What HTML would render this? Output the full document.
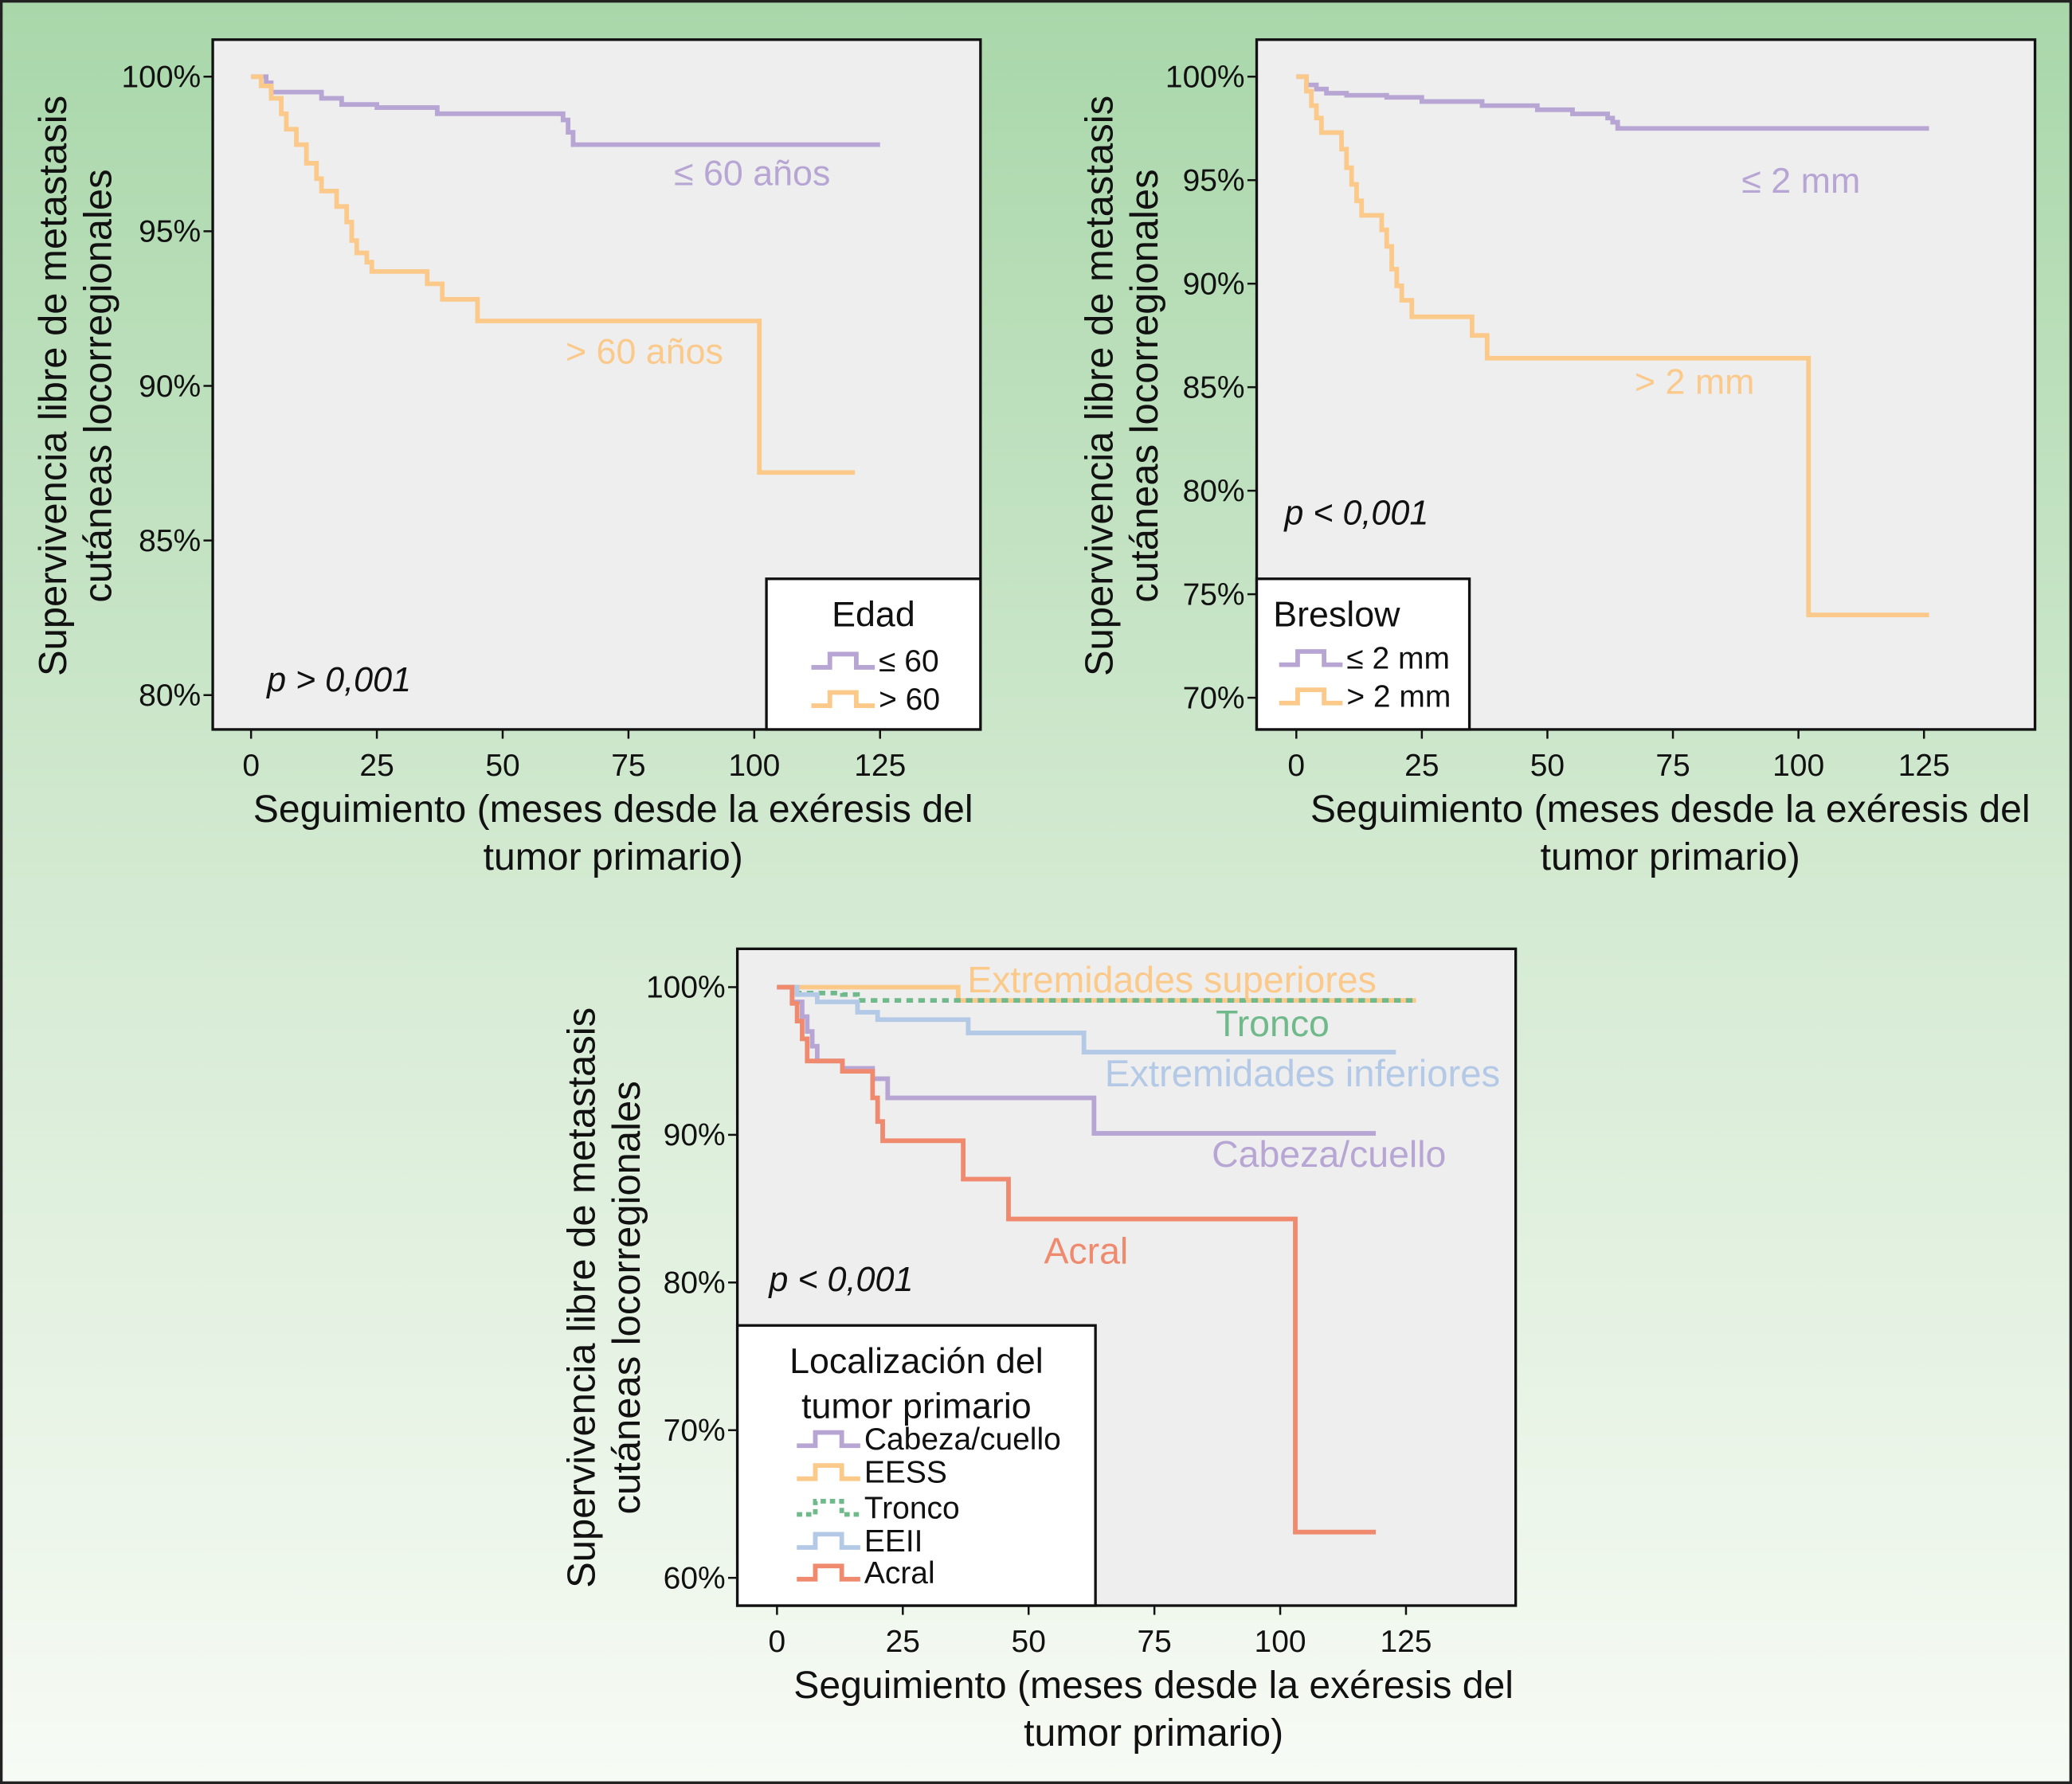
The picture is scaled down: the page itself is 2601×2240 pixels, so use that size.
<!DOCTYPE html>
<html><head><meta charset="utf-8"><style>
html,body{margin:0;padding:0;width:2601px;height:2240px;overflow:hidden}
svg{display:block;font-family:"Liberation Sans",sans-serif}
</style></head><body>
<svg id="s" width="2601" height="2240" viewBox="0 0 1568 1350" preserveAspectRatio="none">
<defs><linearGradient id="bg" x1="0" y1="0" x2="0" y2="1">
<stop offset="0" stop-color="#a9d7aa"/><stop offset="0.5" stop-color="#d4ead2"/><stop offset="1" stop-color="#f7fbf5"/></linearGradient></defs>
<rect x="1" y="1" width="1566" height="1348" fill="url(#bg)" stroke="#222" stroke-width="2"/>
<g id="root"></g>
</svg>
<script>
// ---- data ----
const xTicks=[0,25,50,75,100,125];
const p1Ticks=[100,95,90,85,80];
const p2Ticks=[100,95,90,85,80,75,70];
const p3Ticks=[100,90,80,70,60];
const p1Young=[[0,100],[3,99.8],[4,99.5],[14,99.3],[18,99.1],[25,99.0],[37,98.8],[62,98.6],[63,98.2],[64,97.8],[125,97.8]];
const p1Old=[[0,100],[2,99.7],[4,99.3],[6,98.8],[7,98.3],[9,97.8],[11,97.2],[13,96.7],[14,96.3],[17,95.8],[19,95.3],[20,94.7],[21,94.3],[23,94.0],[24,93.7],[35,93.3],[38,92.8],[45,92.1],[101,87.2],[120,87.2]];
const p2Thin=[[0,100],[2,99.6],[4,99.4],[6,99.2],[10,99.1],[18,99.0],[25,98.8],[37,98.6],[48,98.4],[55,98.2],[62,98.0],[63,97.8],[64,97.5],[126,97.5]];
const p2Thick=[[0,100],[2,99.3],[3,98.6],[4,98.0],[5,97.3],[9,96.5],[10,95.6],[11,94.8],[12,94.0],[13,93.3],[17,92.6],[18,91.8],[19,90.7],[20,89.9],[21,89.2],[23,88.4],[35,87.5],[38,86.4],[102,74.0],[126,74.0]];
const p3Sup=[[0,100],[36,99.1],[127,99.1]];
const p3Tronco=[[0,100],[4,99.6],[13,99.5],[16,99.1],[127,99.1]];
const p3Inf=[[0,100],[4,99.5],[8,99.0],[16,98.3],[20,97.8],[38,96.9],[61,95.6],[123,95.6]];
const p3Cab=[[0,100],[3,99.0],[5,98.0],[6,97.0],[7,96.0],[8,95.0],[13,94.5],[19,93.8],[22,92.5],[63,90.1],[119,90.1]];
const p3Acral=[[0,100],[3,98.9],[4,97.7],[5,96.5],[6,95.0],[13,94.3],[19,92.5],[20,90.9],[21,89.6],[37,87.0],[46,84.3],[103,63.1],[119,63.1]];

const NS="http://www.w3.org/2000/svg";
const root=document.getElementById('root');
function mk(t,a,txt,parent){const e=document.createElementNS(NS,t);for(const k in a)e.setAttribute(k,a[k]);if(txt!==undefined)e.textContent=txt;(parent||root).appendChild(e);return e;}
const PUR="#b7a5d4",ORA="#fbc98a",GRN="#6fb98a",BLU="#b3c9e6",RED="#f08a6e";

function panel(cfg){
  const g=mk('g',{});
  
  
  const {bx,by,bw,bh,x0,x125,yTop,yBot,vTop,vBot}=cfg;
  const sx=v=>x0+(x125-x0)*v/125;
  const sy=v=>yTop+(vTop-v)*(yBot-yTop)/(vTop-vBot);
  const r=mk('rect',{x:bx,y:by,width:bw,height:bh,fill:'#eeeeee',stroke:'#111','stroke-width':2},undefined,g);
  
  cfg.yt.forEach(v=>{
    mk('line',{x1:bx-7,x2:bx,y1:sy(v),y2:sy(v),stroke:'#111','stroke-width':1.5},undefined,g);
    const t=mk('text',{x:bx-9,y:sy(v)+8,'text-anchor':'end','font-size':23.5,fill:'#111'},v+'%',g);
    
  });
  xTicks.forEach(v=>{
    mk('line',{x1:sx(v),x2:sx(v),y1:by+bh,y2:by+bh+7,stroke:'#111','stroke-width':1.5},undefined,g);
    const t=mk('text',{x:sx(v),y:by+bh+35,'text-anchor':'middle','font-size':23.5,fill:'#111'},String(v),g);
    
  });
  cfg.series.forEach(s=>{
    let d='M'+sx(s.d[0][0])+','+sy(s.d[0][1]);
    for(let i=1;i<s.d.length;i++){d+=' H'+sx(s.d[i][0])+' V'+sy(s.d[i][1]);}
    const p=mk('path',{d:d,fill:'none',stroke:s.c,'stroke-width':3.5,'stroke-dasharray':s.dash||'none'},undefined,g);
    
  });
  const a=mk('text',{x:cfg.xtx,y:by+bh+70,'text-anchor':'middle','font-size':29,fill:'#111'},'Seguimiento (meses desde la exéresis del',g);
  
  mk('text',{x:cfg.xtx,y:by+bh+106,'text-anchor':'middle','font-size':29,fill:'#111'},'tumor primario)',g);
  const ycy=cfg.ytc;
  const y1=mk('text',{x:0,y:0,'text-anchor':'middle','font-size':29.5,fill:'#111',transform:`translate(${cfg.ytx},${ycy}) rotate(-90)`},'Supervivencia libre de metastasis',g);
  
  mk('text',{x:0,y:0,'text-anchor':'middle','font-size':29.5,fill:'#111',transform:`translate(${cfg.ytx+34},${ycy}) rotate(-90)`},'cutáneas locorregionales',g);
  return g;
}
function lbl(x,y,t,c,name,size,italic){const e=mk('text',{x:x,y:y,'font-size':size||26,fill:c,'font-style':italic?'italic':'normal'},t);return e;}
function legend(x,y,w,h,title,items,name,ty){
  const g=mk('g',{});
  mk('rect',{x:x,y:y,width:w,height:h,fill:'#fff',stroke:'#111','stroke-width':2},undefined,g);
  title.forEach((t,i)=>mk('text',{x:x+w/2+(ty||0),y:y+36+i*34,'text-anchor':'middle','font-size':27,fill:'#111'},t,g));
  items.forEach(it=>{
    mk('path',{d:`M${it.x},${it.y+5} h14 v-10 h20 v10 h14`,fill:'none',stroke:it.c,'stroke-width':3.5,'stroke-dasharray':it.dash||'none'},undefined,g);
    const t=mk('text',{x:it.x+51,y:it.y+8,'font-size':23.5,fill:'#111'},it.t,g);
    
  });
}
// Panel 1
panel({name:'chart-edad',bx:161,by:30,bw:581,bh:522,x0:190,x125:666,yTop:58,yBot:526,vTop:100,vBot:80,yt:p1Ticks,
  series:[{d:p1Young,c:PUR,n:'line-le60'},{d:p1Old,c:ORA,n:'line-gt60'}],xtx:464,ytx:50,ytc:292});
lbl(510,140,'≤ 60 años',PUR,'label-le60',27);
lbl(428,275,'> 60 años',ORA,'label-gt60',27);
lbl(202,523,'p > 0,001','#111','p-value',26,true);
legend(580,438,162,114,['Edad'],[{x:614,y:500,c:PUR,t:'≤ 60'},{x:614,y:529,c:ORA,t:'> 60'}],'legend-edad');
// Panel 2
panel({name:'chart-breslow',bx:951,by:30,bw:589,bh:522,x0:981,x125:1456,yTop:58,yBot:528,vTop:100,vBot:70,yt:p2Ticks,
  series:[{d:p2Thin,c:PUR,n:'line-le2mm'},{d:p2Thick,c:ORA,n:'line-gt2mm'}],xtx:1264,ytx:842,ytc:292});
lbl(1318,146,'≤ 2 mm',PUR,'label-le2mm',27);
lbl(1237,298,'> 2 mm',ORA,'label-gt2mm',27);
lbl(972,397,'p < 0,001','#111','p-value',26,true);
legend(951,438,161,114,['Breslow'],[{x:968,y:498,c:PUR,t:'≤ 2 mm'},{x:968,y:527,c:ORA,t:'> 2 mm'}],'legend-breslow',-20);
// Panel 3
panel({name:'chart-localizacion',bx:558,by:718,bw:589,bh:497,x0:588,x125:1064,yTop:747,yBot:1194,vTop:100,vBot:60,yt:p3Ticks,
  series:[{d:p3Sup,c:ORA,n:'line-eess'},{d:p3Tronco,c:GRN,n:'line-tronco',dash:'5,4'},{d:p3Inf,c:BLU,n:'line-eeii'},{d:p3Cab,c:PUR,n:'line-cabeza'},{d:p3Acral,c:RED,n:'line-acral'}],xtx:873,ytx:450,ytc:982});
lbl(732,751,'Extremidades superiores',ORA,'label-eess',28);
lbl(920,784,'Tronco',GRN,'label-tronco',28);
lbl(836,822,'Extremidades inferiores',BLU,'label-eeii',28.5);
lbl(917,883,'Cabeza/cuello',PUR,'label-cabeza',28);
lbl(790,956,'Acral',RED,'label-acral',28);
lbl(582,977,'p < 0,001','#111','p-value',26,true);
legend(558,1003,271,212,['Localización del','tumor primario'],[
 {x:603,y:1089,c:PUR,t:'Cabeza/cuello'},{x:603,y:1114,c:ORA,t:'EESS'},{x:603,y:1141,c:GRN,t:'Tronco',dash:'4,3'},
 {x:603,y:1166,c:BLU,t:'EEII'},{x:603,y:1190,c:RED,t:'Acral'}],'legend-localizacion');
</script>
</body></html>
